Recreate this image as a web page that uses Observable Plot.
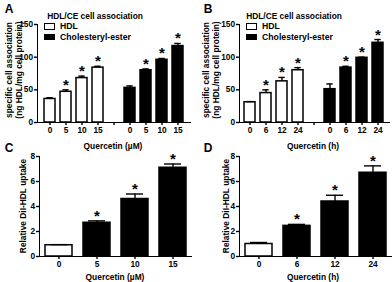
<!DOCTYPE html>
<html><head><meta charset="utf-8">
<script src="https://cdn.jsdelivr.net/npm/d3@7"></script>
<script src="https://cdn.jsdelivr.net/npm/@observablehq/plot@0.6"></script>
<style>
html,body{margin:0;padding:0;background:#fff;}
#fig{position:relative;width:392px;height:282px;overflow:hidden;font-family:"Liberation Sans",Arial,sans-serif;font-weight:bold;color:#000;}
.pn{position:absolute;}
.t{position:absolute;white-space:nowrap;line-height:1;transform:translate(-50%,-50%);}
.tl{position:absolute;white-space:nowrap;line-height:1;transform:translate(0,-50%);}
.box{position:absolute;box-sizing:border-box;}
#fig g[aria-label*="axis"] path, #fig g[aria-label*="axis"] line{stroke-width:1.4px !important;stroke:#000 !important;}
#fig g[aria-label*="axis"] text{fill:#000 !important;}
</style>
</head><body>
<div id="fig"></div>
<script>
// ---- data ----
const dosesA = ["0", "5", "10", "15"];
const hdlA = [36, 47, 68, 84];
const hdlAErr = [2, 3, 3, 2];
const ceA = [53, 80, 96, 117];
const ceAErr = [3, 2, 2, 4];

const timesB = ["0", "6", "12", "24"];
const hdlB = [31, 45, 63, 80];
const hdlBErr = [1, 5, 6, 4];
const ceB = [51, 84, 99, 122];
const ceBErr = [8, 2, 1, 5];

const uptakeC = [0.9, 2.7, 4.6, 7.1];
const uptakeCErr = [0.05, 0.15, 0.4, 0.3];
const uptakeD = [1.0, 2.45, 4.4, 6.7];
const uptakeDErr = [0.12, 0.12, 0.5, 0.55];

const ticksAB = [0, 50, 100, 150];
const ticksCD = [0, 2, 4, 6, 8];

const titleAB = "HDL/CE cell association";
const yLabelAB = ["specific cell association", "(ng HDL/mg cell protein)"];
const yLabelCD = "Relative DiI-HDL uptake";
const xLabelDose = "Quercetin (\u00b5M)";
const xLabelTime = "Quercetin (h)";
const legendLabels = ["HDL", "Cholesteryl-ester"];

// ---- helpers ----
const fig = document.getElementById("fig");
const FONT = "Liberation Sans, Arial, sans-serif";

function rowsGrouped(labels, hdl, hdlErr, ce, ceErr) {
  const rows = [];
  labels.forEach((l, i) => rows.push({key: "H" + l, mean: hdl[i], err: hdlErr[i], white: true, star: i > 0}));
  labels.forEach((l, i) => rows.push({key: "C" + l, mean: ce[i], err: ceErr[i], white: false, star: i > 0}));
  return rows;
}
function rowsSingle(labels, vals, errs) {
  return labels.map((l, i) => ({key: l, mean: vals[i], err: errs[i], white: i === 0, star: i > 0}));
}

function panel({rows, domain, tickFormat, yDomain, yTicks, m, pin, pout, capInset, left, top}) {
  const top_ = d => d.mean + d.err;
  const svg = Plot.plot({
    width: 196, height: 141,
    marginTop: m[0], marginRight: m[1], marginBottom: m[2], marginLeft: m[3],
    style: {background: "transparent", fontFamily: FONT, fontSize: "8.3px", fontWeight: "bold", color: "black", overflow: "visible"},
    x: {domain, tickFormat, paddingInner: pin, paddingOuter: pout, label: null, tickSize: 3, tickPadding: 2, line: true},
    y: {domain: yDomain, ticks: yTicks, label: null, tickSize: 3, tickPadding: 1.5, line: true},
    marks: [
      Plot.barY(rows.filter(d => d.white), {x: "key", y: "mean", fill: "white", stroke: "black", strokeWidth: 1.5}),
      Plot.barY(rows.filter(d => !d.white), {x: "key", y: "mean", fill: "black", stroke: "black", strokeWidth: 1.5}),
      Plot.ruleX(rows, {x: "key", y1: "mean", y2: top_, stroke: "black", strokeWidth: 1.4}),
      Plot.tickY(rows, {x: "key", y: top_, stroke: "black", strokeWidth: 1.4, insetLeft: capInset, insetRight: capInset}),
      Plot.text(rows.filter(d => d.star), {x: "key", y: top_, text: () => "*", fontSize: 15, fontWeight: "bold", lineAnchor: "bottom", dy: 0, fill: "black"})
    ]
  });
  const wrap = document.createElement("div");
  wrap.className = "pn";
  wrap.style.left = left + "px";
  wrap.style.top = top + "px";
  wrap.appendChild(svg);
  fig.appendChild(wrap);
}

function text(str, x, y, size, opts = {}) {
  const d = document.createElement("div");
  d.className = opts.left ? "tl" : "t";
  d.textContent = str;
  d.style.left = x + "px";
  d.style.top = y + "px";
  d.style.fontSize = size + "px";
  let tr = opts.left ? "translate(0,-50%)" : "translate(-50%,-50%)";
  if (opts.rot) tr += " rotate(-90deg)";
  if (opts.sx) tr += ` scaleX(${opts.sx})`;
  d.style.transform = tr;
  fig.appendChild(d);
}
function box(x, y, w, h, filled) {
  const d = document.createElement("div");
  d.className = "box";
  Object.assign(d.style, {left: x + "px", top: y + "px", width: w + "px", height: h + "px",
    background: filled ? "#000" : "#fff", border: "1.5px solid #000"});
  fig.appendChild(d);
}

const groupedDomain = labels => [...labels.map(l => "H" + l), "gap", ...labels.map(l => "C" + l)];
const groupedFormat = k => (k === "gap" ? "" : k.slice(1));

// ---- panels ----
panel({rows: rowsGrouped(dosesA, hdlA, hdlAErr, ceA, ceAErr), domain: groupedDomain(dosesA), tickFormat: groupedFormat,
  yDomain: [0, 150], yTicks: ticksAB, m: [24, 6, 19, 37], pin: 0.3, pout: 0.3, capInset: 2.3, left: 0, top: 0});
panel({rows: rowsGrouped(timesB, hdlB, hdlBErr, ceB, ceBErr), domain: groupedDomain(timesB), tickFormat: groupedFormat,
  yDomain: [0, 150], yTicks: ticksAB, m: [24, 3, 19, 43], pin: 0.3, pout: 0.3, capInset: 2.3, left: 196, top: 0});
panel({rows: rowsSingle(dosesA, uptakeC, uptakeCErr), domain: dosesA, tickFormat: d => d,
  yDomain: [0, 8], yTicks: ticksCD, m: [15, 5, 26, 39], pin: 0.3, pout: 0.15, capInset: 5, left: 0, top: 141});
panel({rows: rowsSingle(timesB, uptakeD, uptakeDErr), domain: timesB, tickFormat: d => d,
  yDomain: [0, 8], yTicks: ticksCD, m: [15, 1, 26, 43], pin: 0.3, pout: 0.15, capInset: 5, left: 196, top: 141});

// ---- text ----
text("A", 9, 8.5, 12);
text("B", 208, 8.5, 12);
text("C", 9, 148, 12);
text("D", 208, 148, 12);
text(titleAB, 95, 15.5, 9.5, {sx: 0.88});
text(titleAB, 294, 15.5, 9.5, {sx: 0.88});
text(yLabelAB[0], 8.5, 70, 8.4, {rot: true});
text(yLabelAB[1], 18.5, 70, 8.4, {rot: true});
text(yLabelAB[0], 206, 70, 8.4, {rot: true});
text(yLabelAB[1], 216, 70, 8.4, {rot: true});
text(xLabelDose, 113, 146, 8.4);
text(xLabelTime, 313, 146, 8.4);
text(yLabelCD, 23, 206, 8.4, {rot: true});
text(yLabelCD, 226, 206, 8.4, {rot: true});
text(xLabelDose, 115, 277, 8.4);
text(xLabelTime, 313, 277, 8.4);

// legends
box(44, 23, 11, 6.5, false); text(legendLabels[0], 60, 26.3, 8.7, {left: true});
box(44, 33.5, 11, 6.5, true); text(legendLabels[1], 60, 36.8, 8.7, {left: true});
box(246, 23, 11, 6.5, false); text(legendLabels[0], 262, 26.3, 8.7, {left: true});
box(246, 33.5, 11, 6.5, true); text(legendLabels[1], 262, 36.8, 8.7, {left: true});
</script>
</body></html>
